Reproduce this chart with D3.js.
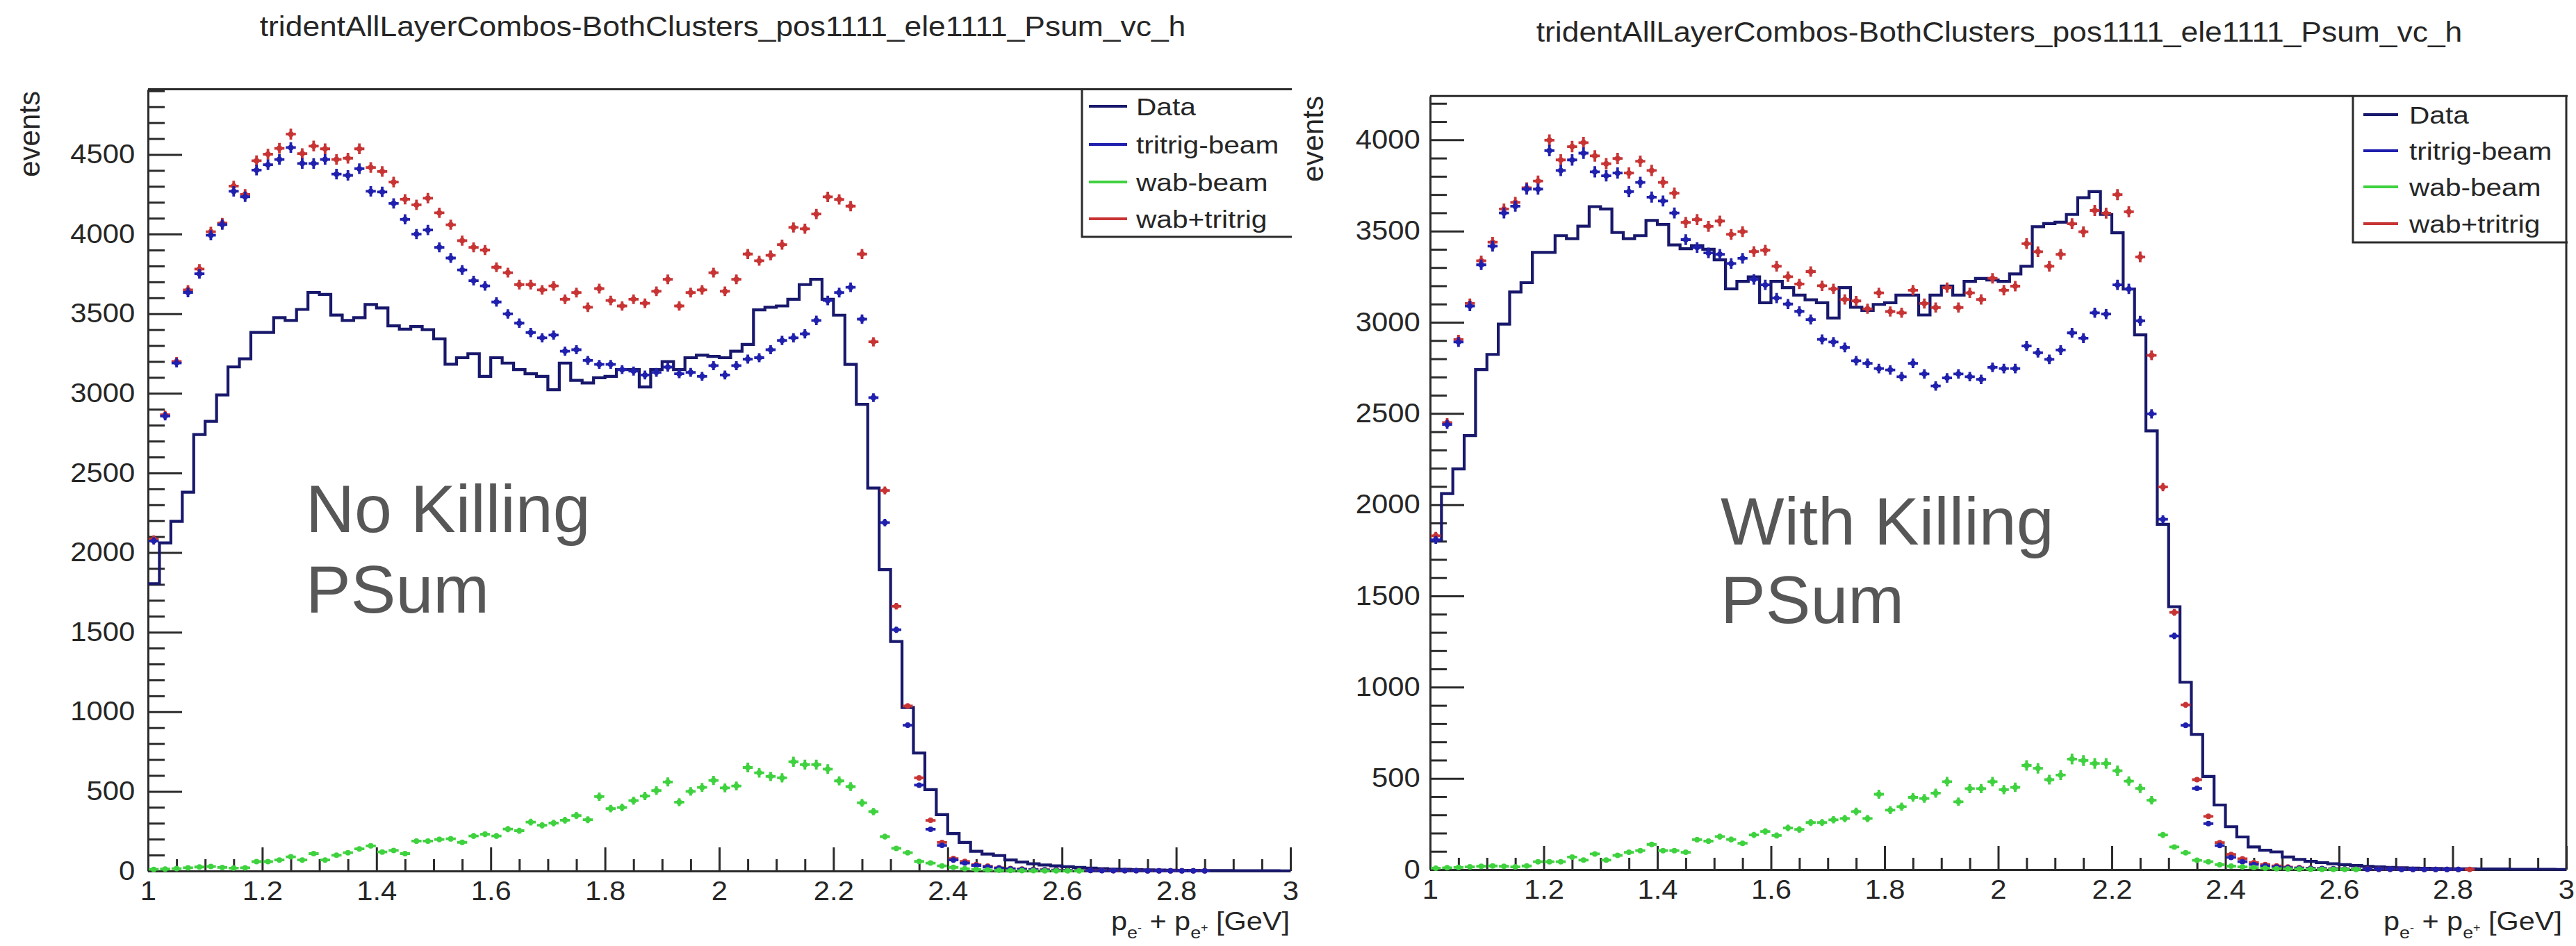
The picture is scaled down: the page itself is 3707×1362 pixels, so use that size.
<!DOCTYPE html>
<html lang="en">
<head>
<meta charset="utf-8">
<title>Psum_vc_h</title>
<script src="https://cdn.jsdelivr.net/npm/d3@7"></script>
<style>
body { margin: 0; background: #fff; }
text { font-family: "Liberation Sans", Arial, Helvetica, sans-serif; }
</style>
</head>
<body>
<script>
var w = 3707;
var h = 1362;

// histogram binning: 100 bins from 1 to 3 GeV
var nBins = 100, xMin = 1, xMax = 3;

var titleText = "tridentAllLayerCombos-BothClusters_pos1111_ele1111_Psum_vc_h";
var xTicks = [1, 1.2, 1.4, 1.6, 1.8, 2, 2.2, 2.4, 2.6, 2.8, 3];
var yTicksNoKill = [0, 500, 1000, 1500, 2000, 2500, 3000, 3500, 4000, 4500];
var yTicksKill = [0, 500, 1000, 1500, 2000, 2500, 3000, 3500, 4000];
var legendLabels = ["Data", "tritrig-beam", "wab-beam", "wab+tritrig"];

// Data is the same in both panels
var dataCounts = [1805, 2061, 2196, 2379, 2741, 2824, 2990, 3166, 3217, 3383,
    3383, 3475, 3458, 3527, 3634, 3621, 3492, 3458, 3475, 3558,
    3536, 3424, 3403, 3420, 3400, 3342, 3183, 3224, 3249, 3107,
    3224, 3190, 3149, 3123, 3107, 3023, 3190, 3082, 3065, 3098,
    3107, 3149, 3149, 3040, 3149, 3199, 3149, 3224, 3240, 3232,
    3224, 3265, 3307, 3524, 3541, 3549, 3591, 3683, 3716, 3591,
    3491, 3182, 2931, 2405, 1893, 1441, 1027, 741, 511, 354,
    235, 179, 124, 106, 97, 69, 56, 45, 38, 32,
    27, 22, 18, 15, 12, 10, 8, 7, 6, 5,
    4, 4, 3, 3, 3, 2, 2, 2, 2, 1];

// left panel: no killing
var tritrigNoKill = [2073, 2857, 3191, 3634, 3751, 3993, 4060, 4269, 4235, 4402,
    4436, 4469, 4544, 4444, 4444, 4469, 4377, 4369, 4411, 4269,
    4265, 4193, 4093, 4000, 4026, 3917, 3850, 3775, 3708, 3675,
    3574, 3499, 3441, 3382, 3349, 3366, 3265, 3274, 3207, 3182,
    3182, 3149, 3140, 3115, 3132, 3165, 3123, 3132, 3107, 3174,
    3115, 3174, 3215, 3224, 3274, 3332, 3349, 3374, 3458, 3583,
    3633, 3666, 3466, 2973, 2188, 1515, 916, 539, 262, 161,
    69, 50, 35, 25, 18, 13, 10, 8, 6, 5,
    4, 3, 3, 2, 2, 2, 2, 1, 1, 1,
    1, 1, 1, 0, 0, 0, 0, 0, 0, 0];
var wabNoKill = [10, 12, 15, 20, 25, 28, 22, 18, 20, 59,
    59, 69, 89, 69, 109, 69, 99, 115, 139, 158,
    119, 129, 109, 188, 188, 198, 202, 180, 220, 231,
    220, 263, 253, 307, 287, 301, 319, 348, 322, 467,
    392, 399, 442, 471, 505, 559, 432, 500, 525, 569,
    522, 534, 650, 617, 594, 585, 686, 668, 668, 640,
    566, 530, 428, 373, 216, 142, 115, 60, 50, 32,
    23, 14, 9, 6, 4, 3, 2, 2, 1, 1,
    1, 1, 0, 0, 0, 0, 0, 0, 0, 0,
    0, 0, 0, 0, 0, 0, 0, 0, 0, 0];
var sumNoKill = [2085, 2865, 3200, 3650, 3781, 4015, 4070, 4302, 4250, 4461,
    4502, 4539, 4628, 4506, 4553, 4536, 4469, 4477, 4536, 4419,
    4394, 4327, 4219, 4184, 4226, 4134, 4059, 3959, 3917, 3900,
    3792, 3758, 3683, 3683, 3650, 3675, 3591, 3633, 3541, 3658,
    3583, 3549, 3591, 3566, 3641, 3716, 3549, 3633, 3650, 3758,
    3641, 3716, 3875, 3833, 3867, 3934, 4042, 4034, 4126, 4234,
    4218, 4176, 3875, 3324, 2390, 1663, 1036, 585, 318, 179,
    78, 60, 40, 30, 20, 15, 12, 10, 8, 6,
    5, 4, 3, 3, 2, 2, 2, 1, 1, 1,
    1, 1, 1, 0, 0, 0, 0, 0, 0, 0];

// right panel: with killing
var tritrigKill = [1807, 2440, 2892, 3089, 3315, 3417, 3599, 3636, 3730, 3730,
    3941, 3832, 3890, 3927, 3825, 3803, 3818, 3716, 3767, 3686,
    3665, 3599, 3453, 3410, 3380, 3373, 3322, 3351, 3235, 3205,
    3133, 3100, 3060, 3015, 2906, 2892, 2862, 2789, 2775, 2746,
    2739, 2702, 2775, 2717, 2651, 2695, 2717, 2702, 2687, 2753,
    2746, 2746, 2870, 2833, 2797, 2848, 2942, 2913, 3052, 3045,
    3205, 3183, 3008, 2498, 1920, 1281, 791, 445, 252, 132,
    67, 43, 28, 20, 14, 10, 8, 6, 5, 4,
    3, 3, 2, 2, 2, 1, 1, 1, 1, 1,
    1, 0, 0, 0, 0, 0, 0, 0, 0, 0];
var wabKill = [8, 10, 12, 15, 18, 20, 18, 15, 20, 43,
    43, 43, 69, 52, 86, 52, 78, 95, 104, 138,
    104, 104, 95, 164, 156, 181, 165, 144, 190, 209,
    187, 228, 220, 258, 258, 273, 280, 318, 280, 413,
    326, 345, 396, 390, 419, 482, 372, 444, 444, 482,
    438, 451, 571, 555, 493, 518, 606, 598, 582, 582,
    542, 485, 445, 380, 190, 124, 92, 51, 43, 27,
    19, 15, 11, 8, 5, 4, 3, 2, 1, 1,
    1, 1, 0, 0, 0, 0, 0, 0, 0, 0,
    0, 0, 0, 0, 0, 0, 0, 0, 0, 0];
var sumKill = [1830, 2450, 2905, 3103, 3337, 3439, 3621, 3657, 3737, 3774,
    3998, 3890, 3963, 3985, 3912, 3869, 3898, 3818, 3883, 3832,
    3767, 3708, 3548, 3563, 3526, 3555, 3482, 3497, 3388, 3395,
    3307, 3250, 3210, 3278, 3200, 3183, 3125, 3117, 3074, 3161,
    3059, 3052, 3176, 3103, 3081, 3190, 3081, 3161, 3125, 3241,
    3176, 3198, 3431, 3387, 3307, 3373, 3540, 3496, 3613, 3598,
    3700, 3606, 3358, 2819, 2097, 1410, 903, 493, 292, 148,
    83, 59, 38, 28, 20, 14, 10, 8, 6, 5,
    4, 3, 3, 2, 2, 2, 1, 1, 1, 1,
    1, 1, 0, 0, 0, 0, 0, 0, 0, 0];

var colData = "#18186c", colTritrig = "#2020ae", colWab = "#3fd23f", colSum = "#c83434";
var axisCol = "#2b2b2b", textCol = "#262626";

var svg = d3.select("body")
            .append("svg")
            .attr("width", w)
            .attr("height", h);

svg.append("rect").attr("width", w).attr("height", h).attr("fill", "#fff");

var panels = [
    {left: 213, right: 1857, top: 128.5, bottom: 1254, yMax: 4910, yTicks: yTicksNoKill,
     titleX: 1040, titleY: 52, eventsX: 57, eventsY: 131,
     leg: {x0: 1557, bottom: 341, rows: [153, 208, 262, 315], l0: 1567, l1: 1622, tx: 1635},
     xTitleX: 1856, overlayX: 440, overlayY: [766, 882], overlay: ["No Killing", "PSum"],
     rightBorder: false, blue: tritrigNoKill, green: wabNoKill, red: sumNoKill},
    {left: 2058, right: 3693, top: 138.3, bottom: 1252, yMax: 4240, yTicks: yTicksKill,
     titleX: 2877, titleY: 60, eventsX: 1904, eventsY: 138,
     leg: {x0: 3386, bottom: 349, rows: [165, 217, 269, 322], l0: 3401, l1: 3451, tx: 3467},
     xTitleX: 3687, overlayX: 2476, overlayY: [784, 897], overlay: ["With Killing", "PSum"],
     rightBorder: true, blue: tritrigKill, green: wabKill, red: sumKill}
];

panels.forEach(drawPanel);

function drawPanel(p) {
    var binW = (xMax - xMin) / nBins;
    var xScale = d3.scaleLinear().domain([xMin, xMax]).range([p.left, p.right]);
    var yScale = d3.scaleLinear().domain([0, p.yMax]).range([p.bottom, p.top]);
    var g = svg.append("g");

    // title
    g.append("text")
        .attr("transform", "translate(" + p.titleX + "," + p.titleY + ") scale(1.11,1)")
        .attr("text-anchor", "middle")
        .attr("font-size", 40)
        .attr("fill", textCol)
        .text(titleText);

    // frame top (and right)
    g.append("line")
        .attr("x1", p.left).attr("x2", p.right + 2)
        .attr("y1", p.top).attr("y2", p.top)
        .attr("stroke", axisCol).attr("stroke-width", 3);
    if (p.rightBorder) {
        g.append("line")
            .attr("x1", p.right).attr("x2", p.right)
            .attr("y1", p.top).attr("y2", p.bottom)
            .attr("stroke", axisCol).attr("stroke-width", 3);
    }

    // minor ticks
    var yMinor = d3.range(100, p.yMax, 100).filter(function(v) { return v % 500 !== 0; });
    var xMinor = d3.range(0, 41).filter(function(i) { return i % 4 !== 0; })
                    .map(function(i) { return xMin + i * 0.05; });

    g.append("g")
        .attr("transform", "translate(" + p.left + ",0)")
        .call(d3.axisLeft(yScale).tickValues(yMinor).tickSize(-24).tickFormat(""))
        .call(function(s) { s.select(".domain").remove(); });
    g.append("g")
        .attr("transform", "translate(0," + p.bottom + ")")
        .call(d3.axisBottom(xScale).tickValues(xMinor).tickSize(-17).tickFormat(""))
        .call(function(s) { s.select(".domain").remove(); });

    // major axes
    var yAxis = d3.axisLeft(yScale).tickValues(p.yTicks)
                    .tickSizeInner(-49).tickSizeOuter(0).tickPadding(p.rightBorder ? 13 : 17)
                    .tickFormat(d3.format("d"));
    var xAxis = d3.axisBottom(xScale).tickValues(xTicks)
                    .tickSizeInner(-34).tickSizeOuter(0).tickPadding(15)
                    .tickFormat(d3.format("~g"));

    g.append("g")
        .attr("class", "axis")
        .attr("transform", "translate(" + p.left + ",0)")
        .call(yAxis);
    g.append("g")
        .attr("class", "axis")
        .attr("transform", "translate(0," + p.bottom + ")")
        .call(xAxis);

    g.selectAll("line").attr("stroke", axisCol);
    g.selectAll(".tick line").attr("stroke-width", 3);
    g.selectAll(".domain").attr("stroke", axisCol).attr("stroke-width", 3);
    g.selectAll(".axis text")
        .attr("font-size", 38)
        .attr("font-family", "Liberation Sans, Arial, sans-serif")
        .attr("fill", textCol)
        .attr("transform", "scale(1.1,1)");

    // y title
    g.append("text")
        .attr("transform", "translate(" + p.eventsX + "," + p.eventsY + ") rotate(-90)")
        .attr("text-anchor", "end")
        .attr("font-size", 42)
        .attr("fill", textCol)
        .text("events");

    // x title: p_{e-} + p_{e+} [GeV]
    var xt = g.append("text")
        .attr("transform", "translate(" + p.xTitleX + ",1339) scale(1.12,1)")
        .attr("text-anchor", "end")
        .attr("font-size", 37)
        .attr("fill", textCol);
    xt.append("tspan").text("p");
    xt.append("tspan").attr("dy", 12).attr("font-size", 24).text("e");
    xt.append("tspan").attr("dy", -10).attr("font-size", 16).text("-");
    xt.append("tspan").attr("dy", -2).attr("font-size", 37).text(" + p");
    xt.append("tspan").attr("dy", 12).attr("font-size", 24).text("e");
    xt.append("tspan").attr("dy", -10).attr("font-size", 16).text("+");
    xt.append("tspan").attr("dy", -2).attr("font-size", 37).text(" [GeV]");

    // overlay annotation
    p.overlay.forEach(function(s, i) {
        g.append("text")
            .attr("x", p.overlayX)
            .attr("y", p.overlayY[i])
            .attr("font-size", 97)
            .attr("fill", "#575757")
            .text(s);
    });

    // data histogram
    var steps = dataCounts.map(function(v, i) { return [xMin + i * binW, v]; });
    steps.push([xMax, dataCounts[nBins - 1]]);
    var line = d3.line()
                .x(function(d) { return xScale(d[0]); })
                .y(function(d) { return yScale(d[1]); })
                .curve(d3.curveStepAfter);
    g.append("path")
        .attr("d", line(steps))
        .attr("fill", "none")
        .attr("stroke", colData)
        .attr("stroke-width", 4.2);

    // MC points with bin-width and statistical error bars
    var series = [
        {vals: p.red, col: colSum, k: 0.5},
        {vals: p.blue, col: colTritrig, k: 0.5},
        {vals: p.green, col: colWab, k: 1.2}
    ];
    series.forEach(function(s) {
        var pts = s.vals.map(function(v, i) { return {i: i, v: v}; })
                        .filter(function(d) { return d.v > 0; });
        var sg = g.append("g");
        sg.selectAll("path")
            .data(pts)
            .enter()
            .append("path")
            .attr("d", function(d) {
                var x0 = xScale(xMin + d.i * binW), x1 = xScale(xMin + (d.i + 1) * binW);
                var xc = (x0 + x1) / 2, yc = yScale(d.v);
                var e = s.k * Math.sqrt(d.v);
                return "M" + (x0 + 1) + "," + yc + "H" + (x1 - 1) +
                       "M" + xc + "," + yScale(d.v - e) + "V" + yScale(d.v + e);
            })
            .attr("stroke", s.col)
            .attr("stroke-width", 3.8)
            .attr("fill", "none");
        sg.selectAll("circle")
            .data(pts)
            .enter()
            .append("circle")
            .attr("cx", function(d) { return xScale(xMin + (d.i + 0.5) * binW); })
            .attr("cy", function(d) { return yScale(d.v); })
            .attr("r", 4)
            .attr("fill", s.col);
    });

    // legend
    var L = p.leg;
    g.append("path")
        .attr("d", "M" + L.x0 + "," + p.top + "V" + L.bottom + "H" + (p.right + 2))
        .attr("fill", "none")
        .attr("stroke", axisCol)
        .attr("stroke-width", 3);
    var legCols = [colData, colTritrig, colWab, colSum];
    legendLabels.forEach(function(lab, i) {
        g.append("line")
            .attr("x1", L.l0).attr("x2", L.l1)
            .attr("y1", L.rows[i]).attr("y2", L.rows[i])
            .attr("stroke", legCols[i])
            .attr("stroke-width", 4);
        g.append("text")
            .attr("transform", "translate(" + L.tx + "," + L.rows[i] + ") scale(1.16,1)")
            .attr("dy", "0.36em")
            .attr("font-size", 35)
            .attr("fill", textCol)
            .text(lab);
    });
}
</script>
</body>
</html>
